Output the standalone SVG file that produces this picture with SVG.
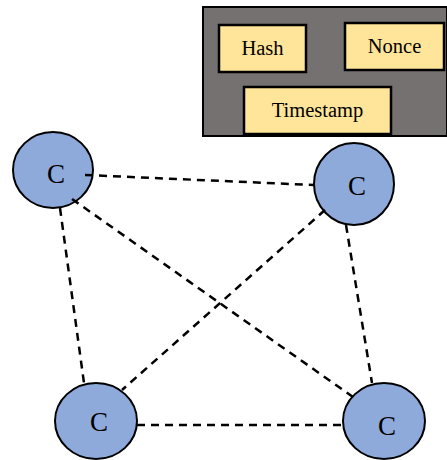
<svg xmlns="http://www.w3.org/2000/svg" width="447" height="460" viewBox="0 0 447 460">
  <style>
    .panel { fill: #767171; stroke: #000; stroke-width: 2; }
    .field { fill: #ffe599; stroke: #000; stroke-width: 2.5; }
    .node { fill: #8eaadb; stroke: #000; stroke-width: 2; }
    .label { font-family: "Liberation Serif", "Times New Roman", serif; fill: #000; text-anchor: middle; }
    .small { font-size: 20.5px; }
    .big { font-size: 27px; }
    .link { stroke: #000; stroke-width: 2.5; stroke-dasharray: 8 6; fill: none; }
  </style>

  <!-- block header -->
  <g id="block">
    <rect class="panel" x="203" y="7" width="244" height="129"/>
  </g>
  <g id="hash">
    <rect class="field" x="219" y="25" width="87" height="47"/>
    <text class="label small" x="262.5" y="55">Hash</text>
  </g>
  <g id="nonce">
    <rect class="field" x="345" y="23" width="99" height="47"/>
    <text class="label small" x="394.5" y="53">Nonce</text>
  </g>
  <g id="timestamp">
    <rect class="field" x="244" y="87" width="147" height="47"/>
    <text class="label small" x="317.5" y="117">Timestamp</text>
  </g>

  <!-- peer nodes -->
  <g id="node-tl">
    <ellipse class="node" cx="53" cy="170" rx="40" ry="38"/>
    <text class="label big" x="56" y="183">C</text>
  </g>
  <g id="node-tr">
    <ellipse class="node" cx="354" cy="184" rx="40" ry="41"/>
    <text class="label big" x="357" y="195">C</text>
  </g>
  <g id="node-bl">
    <ellipse class="node" cx="96" cy="421" rx="41" ry="38"/>
    <text class="label big" x="99" y="431">C</text>
  </g>
  <g id="node-br">
    <ellipse class="node" cx="384" cy="421" rx="41" ry="38"/>
    <text class="label big" x="387" y="435">C</text>
  </g>

  <!-- peer links -->
  <g id="links">
    <line class="link" x1="85" y1="175" x2="314" y2="185"/>
    <line class="link" x1="72" y1="199" x2="353" y2="397"/>
    <line class="link" x1="60" y1="208" x2="84" y2="383"/>
    <line class="link" x1="325" y1="210" x2="122" y2="390"/>
    <line class="link" x1="346" y1="225" x2="372" y2="383"/>
    <line class="link" x1="137" y1="425" x2="343" y2="425"/>
  </g>
</svg>
